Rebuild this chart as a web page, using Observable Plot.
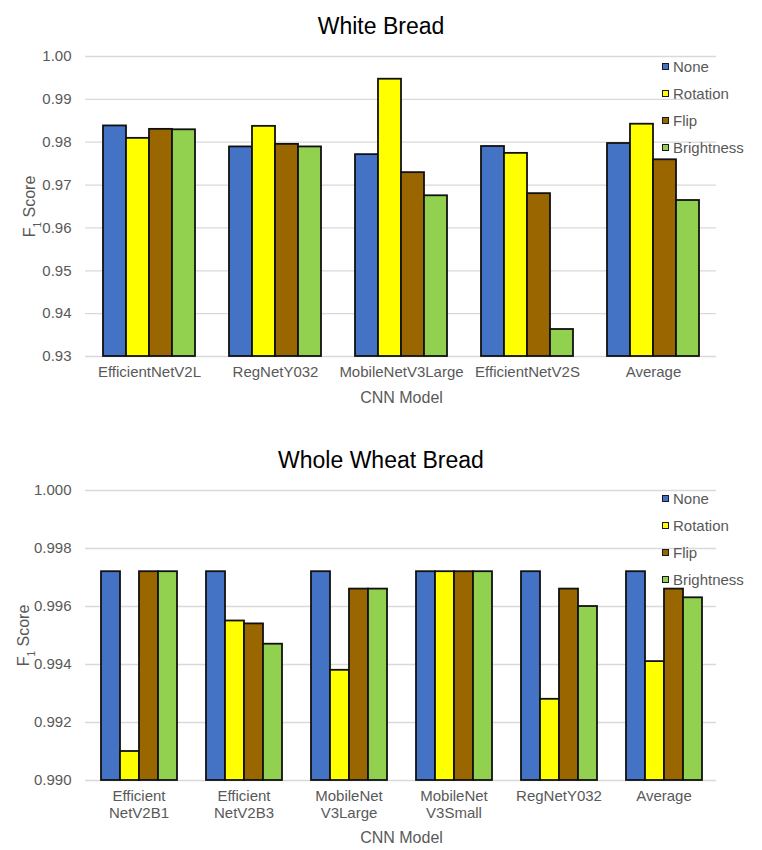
<!DOCTYPE html>
<html>
<head>
<meta charset="utf-8">
<script src="https://cdn.jsdelivr.net/npm/d3@7"></script>
<script src="https://cdn.jsdelivr.net/npm/@observablehq/plot@0.6"></script>
<style>
  body { margin: 0; background: #fff; font-family: "Liberation Sans", Arial, sans-serif; }
  #page { position: relative; width: 762px; height: 850px; overflow: hidden; background: #fff; }
  .title { position: absolute; left: 0; width: 762px; text-align: center; font-size: 23px; color: #000; white-space: nowrap; }
  .layer { position: absolute; left: 0; }
  .legend { position: absolute; left: 662px; font-size: 15px; color: #595959; }
  .legend .item { position: absolute; left: 0; height: 20px; display: flex; align-items: center; white-space: nowrap; }
  .legend .sw { width: 5px; height: 5px; border: 1.5px solid #1a1a1a; margin-right: 4px; box-sizing: content-box; }
</style>
</head>
<body>
<div id="page"></div>
<script>
// ---------- data ----------
const series = ["None", "Rotation", "Flip", "Brightness"];
const seriesColors = ["#4472C4", "#FFFF00", "#996600", "#92D050"];

const whiteTitle = "White Bread";
const whiteModels = ["EfficientNetV2L", "RegNetY032", "MobileNetV3Large", "EfficientNetV2S", "Average"];
const whiteNone = [0.9838, 0.9789, 0.9771, 0.9790, 0.9797];
const whiteRotation = [0.9809, 0.9837, 0.9947, 0.9774, 0.9842];
const whiteFlip = [0.9830, 0.9795, 0.9729, 0.9680, 0.9759];
const whiteBrightness = [0.9829, 0.9789, 0.9675, 0.9363, 0.9664];
const whiteTicks = [0.93, 0.94, 0.95, 0.96, 0.97, 0.98, 0.99, 1.00];

const wheatTitle = "Whole Wheat Bread";
const wheatModels = ["Efficient\nNetV2B1", "Efficient\nNetV2B3", "MobileNet\nV3Large", "MobileNet\nV3Small", "RegNetY032", "Average"];
const wheatNone = [0.9972, 0.9972, 0.9972, 0.9972, 0.9972, 0.9972];
const wheatRotation = [0.9910, 0.9955, 0.9938, 0.9972, 0.9928, 0.9941];
const wheatFlip = [0.9972, 0.9954, 0.9966, 0.9972, 0.9966, 0.9966];
const wheatBrightness = [0.9972, 0.9947, 0.9966, 0.9972, 0.9960, 0.9963];
const wheatTicks = [0.990, 0.992, 0.994, 0.996, 0.998, 1.000];

const xLabel = "CNN Model";
const yLabel = "F1 Score";

// ---------- drawing ----------
const page = document.getElementById("page");
const W = 762, ML = 85, MR = 46;
const fontFamily = '"Liberation Sans", Arial, sans-serif';

function rowsOf(models, lists) {
  const rows = [];
  models.forEach((m, i) => series.forEach((s, j) => rows.push({model: m, aug: s, value: lists[j][i]})));
  return rows;
}

function chart(cfg) {
  const {title, titleTop, titleH, top, height, mt, mb, models, lists, ticks, fmt, yLabelOffset, xLabelOffset, legendTop} = cfg;
  const lo = ticks[0], hi = ticks[ticks.length - 1];
  const rows = rowsOf(models, lists);

  const t = document.createElement("div");
  t.className = "title";
  t.style.top = titleTop + "px";
  t.style.height = titleH + "px";
  t.style.lineHeight = titleH + "px";
  t.textContent = title;
  page.appendChild(t);

  const style = {fontFamily, fontSize: "15px", color: "#595959", background: "transparent", overflow: "visible"};

  // grid + y axis layer
  const grid = Plot.plot({
    width: W, height, marginTop: mt, marginBottom: mb, marginLeft: ML, marginRight: MR,
    style,
    y: {domain: [lo, hi]},
    marks: [
      Plot.gridY(ticks, {stroke: "#d9d9d9", strokeOpacity: 1, strokeWidth: 1.3}),
      Plot.axisY(ticks, {tickSize: 0, tickPadding: 14, tickFormat: fmt, fontSize: 15,
        label: yLabel, labelAnchor: "center", labelOffset: yLabelOffset})
    ]
  });
  grid.classList.add("layer");
  grid.style.top = top + "px";
  page.appendChild(grid);

  // bars + x axis layer
  const bars = Plot.plot({
    width: W, height, marginTop: mt, marginBottom: mb, marginLeft: ML, marginRight: MR,
    style,
    fx: {domain: models, paddingInner: 0.27, paddingOuter: 0.135},
    x: {domain: series, padding: 0, axis: null},
    y: {domain: [lo, hi], axis: null},
    color: {domain: series, range: seriesColors},
    marks: [
      Plot.barY(rows, {fx: "model", x: "aug", y1: lo, y2: "value", fill: "aug", stroke: "#111", strokeWidth: 1.8}),
      Plot.axisFx({anchor: "bottom", tickSize: 0, tickPadding: 9, fontSize: 15, lineHeight: 1.12,
        label: xLabel, labelAnchor: "center", labelOffset: xLabelOffset})
    ]
  });
  bars.classList.add("layer");
  bars.style.top = top + "px";
  page.appendChild(bars);

  // subscript on y label
  grid.querySelectorAll("text").forEach(el => {
    if (el.textContent.includes("Score")) {
      el.textContent = "";
      const ns = "http://www.w3.org/2000/svg";
      const a = document.createElementNS(ns, "tspan"); a.textContent = "F";
      const b = document.createElementNS(ns, "tspan"); b.textContent = "1";
      b.setAttribute("font-size", "10"); b.setAttribute("baseline-shift", "sub");
      const c = document.createElementNS(ns, "tspan"); c.textContent = " Score";
      el.append(a, b, c);
      el.setAttribute("font-size", "16");
    }
  });
  bars.querySelectorAll("text").forEach(el => {
    if (el.textContent.includes(xLabel)) { el.textContent = xLabel; el.setAttribute("font-size", "16"); }
  });

  // legend
  const lg = document.createElement("div");
  lg.className = "legend";
  lg.style.top = legendTop + "px";
  series.forEach((s, i) => {
    const it = document.createElement("div");
    it.className = "item";
    it.style.top = (i * 27) + "px";
    const sw = document.createElement("span");
    sw.className = "sw";
    sw.style.background = seriesColors[i];
    const tx = document.createElement("span");
    tx.textContent = s;
    it.append(sw, tx);
    lg.appendChild(it);
  });
  page.appendChild(lg);
}

chart({
  title: whiteTitle, titleTop: 0, titleH: 53,
  top: 42, height: 368, mt: 14, mb: 54,
  models: whiteModels,
  lists: [whiteNone, whiteRotation, whiteFlip, whiteBrightness],
  ticks: whiteTicks, fmt: d3.format(".2f"),
  yLabelOffset: 62, xLabelOffset: 46, legendTop: 56
});

chart({
  title: wheatTitle, titleTop: 433, titleH: 54,
  top: 470, height: 380, mt: 20, mb: 70,
  models: wheatModels,
  lists: [wheatNone, wheatRotation, wheatFlip, wheatBrightness],
  ticks: wheatTicks, fmt: d3.format(".3f"),
  yLabelOffset: 68, xLabelOffset: 62, legendTop: 488
});
</script>
</body>
</html>
